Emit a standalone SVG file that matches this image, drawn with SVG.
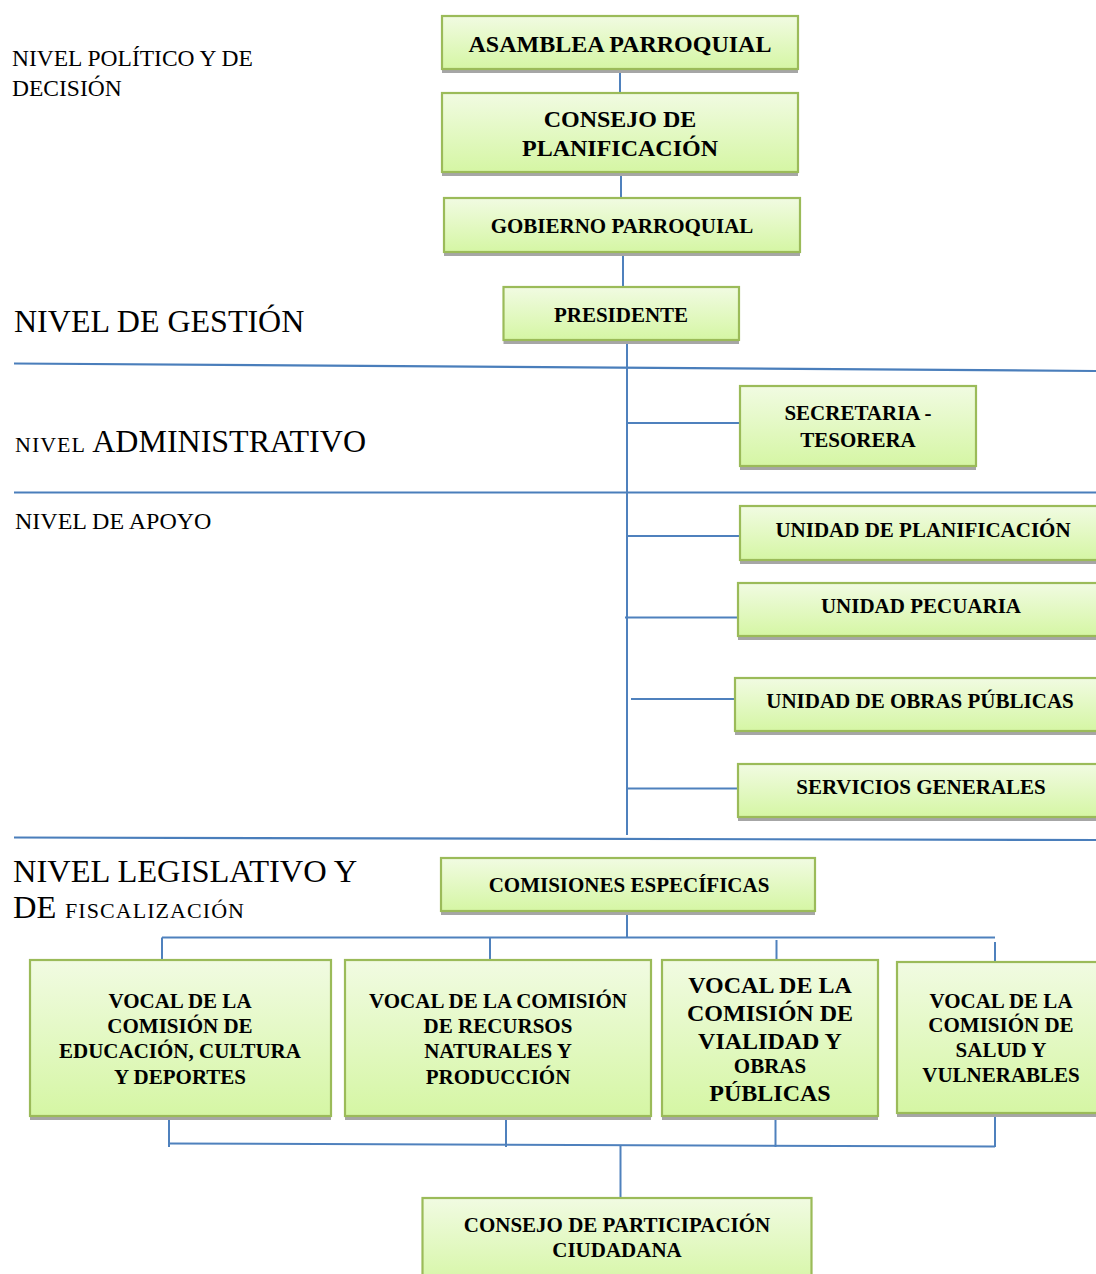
<svg xmlns="http://www.w3.org/2000/svg" width="1096" height="1274" viewBox="0 0 1096 1274">
<defs>
<linearGradient id="g" x1="0" y1="0" x2="0" y2="1">
<stop offset="0" stop-color="#f1fbe2"/>
<stop offset="1" stop-color="#d5f6a4"/>
</linearGradient>
</defs>
<style>
.sh{fill:#a6a6a6}
.bx{fill:url(#g);stroke:#9bbb59;stroke-width:2.2}
.t{font-family:"Liberation Serif","Times New Roman",serif;font-weight:bold;fill:#000;text-anchor:middle;font-size:21px}
.t24{font-size:24px}
.lb{font-family:"Liberation Serif","Times New Roman",serif;fill:#000}
.c{stroke:#4f81bd;stroke-width:2;fill:none}
.lv{stroke:#4a7ebb;stroke-width:2.2;fill:none}
</style>
<rect width="1096" height="1274" fill="#fff"/>

<g id="levels">
<text class="lb" x="12" y="66" font-size="23.5">NIVEL POLÍTICO Y DE</text>
<text class="lb" x="12" y="96" font-size="23.5">DECISIÓN</text>
<text class="lb" x="14" y="332" font-size="32">NIVEL DE GESTIÓN</text>
<text class="lb" x="15" y="452"><tspan font-size="22" textLength="70">NIVEL</tspan><tspan font-size="32"> ADMINISTRATIVO</tspan></text>
<text class="lb" x="15" y="529" font-size="24">NIVEL DE APOYO</text>
<text class="lb" x="13" y="882" font-size="32.5">NIVEL LEGISLATIVO Y</text>
<text class="lb" x="13" y="918"><tspan font-size="32.5">DE</tspan><tspan font-size="22" x="65" textLength="179">FISCALIZACIÓN</tspan></text>
<path class="lv" d="M14 363.5 L1096 371"/>
<path class="lv" d="M14 492.5 L1096 492.5"/>
<path class="lv" d="M14 837.5 L1096 840"/>
</g>

<g id="connectors">
<path class="c" d="M620 68 V93"/>
<path class="c" d="M621 172 V198"/>
<path class="c" d="M623 252 V287"/>
<path class="c" d="M627 341 V835"/>
<path class="c" d="M626 423 H740"/>
<path class="c" d="M627 536 H740"/>
<path class="c" d="M625 617.5 H738"/>
<path class="c" d="M631 699 H744"/>
<path class="c" d="M626 788.5 H740"/>
<path class="c" d="M627 911 V938"/>
<path class="c" d="M162 937.5 H995"/>
<path class="c" d="M162 937.5 V960"/>
<path class="c" d="M490 937.5 V960"/>
<path class="c" d="M776.5 940 V960"/>
<path class="c" d="M995 942 V962"/>
<path class="c" d="M169 1117 V1147"/>
<path class="c" d="M506 1117 V1147"/>
<path class="c" d="M775.5 1116 V1147"/>
<path class="c" d="M995 1114 V1147"/>
<path class="c" d="M169 1143.5 L995 1146.5"/>
<path class="c" d="M620.5 1145 V1198"/>
</g>

<g id="asamblea">
<rect class="sh" x="442" y="20" width="356" height="53"/>
<rect class="bx" x="442" y="16" width="356" height="53"/>
<text class="t t24" x="620" y="52">ASAMBLEA PARROQUIAL</text>
</g>
<g id="consejo-planificacion">
<rect class="sh" x="442" y="97" width="356" height="79"/>
<rect class="bx" x="442" y="93" width="356" height="79"/>
<text class="t t24" x="620" y="127">CONSEJO DE</text>
<text class="t t24" x="620" y="156">PLANIFICACIÓN</text>
</g>
<g id="gobierno">
<rect class="sh" x="444" y="202" width="356" height="54"/>
<rect class="bx" x="444" y="198" width="356" height="54"/>
<text class="t" x="622" y="233">GOBIERNO PARROQUIAL</text>
</g>
<g id="presidente">
<rect class="sh" x="503.5" y="291" width="235.5" height="53"/>
<rect class="bx" x="503.5" y="287" width="235.5" height="53"/>
<text class="t" x="621" y="322">PRESIDENTE</text>
</g>
<g id="secretaria">
<rect class="sh" x="740" y="390" width="236" height="80"/>
<rect class="bx" x="740" y="386" width="236" height="80"/>
<text class="t" x="858" y="420">SECRETARIA -</text>
<text class="t" x="858" y="447">TESORERA</text>
</g>
<g id="unidad-planificacion">
<rect class="sh" x="740" y="510" width="370" height="54"/>
<rect class="bx" x="740" y="506" width="370" height="54"/>
<text class="t" x="923" y="537">UNIDAD DE PLANIFICACIÓN</text>
</g>
<g id="unidad-pecuaria">
<rect class="sh" x="738" y="587" width="372" height="53"/>
<rect class="bx" x="738" y="583" width="372" height="53"/>
<text class="t" x="921" y="613">UNIDAD PECUARIA</text>
</g>
<g id="unidad-obras">
<rect class="sh" x="735" y="682" width="375" height="53"/>
<rect class="bx" x="735" y="678" width="375" height="53"/>
<text class="t" x="920" y="708">UNIDAD DE OBRAS PÚBLICAS</text>
</g>
<g id="servicios">
<rect class="sh" x="738" y="768" width="372" height="53"/>
<rect class="bx" x="738" y="764" width="372" height="53"/>
<text class="t" x="921" y="794">SERVICIOS GENERALES</text>
</g>
<g id="comisiones">
<rect class="sh" x="441" y="862" width="374" height="53"/>
<rect class="bx" x="441" y="858" width="374" height="53"/>
<text class="t" x="629" y="892">COMISIONES ESPECÍFICAS</text>
</g>
<g id="vocal-educacion">
<rect class="sh" x="30" y="964" width="301" height="156"/>
<rect class="bx" x="30" y="960" width="301" height="156"/>
<text class="t" x="180" y="1008">VOCAL DE LA</text>
<text class="t" x="180" y="1033">COMISIÓN DE</text>
<text class="t" x="180" y="1058">EDUCACIÓN, CULTURA</text>
<text class="t" x="180" y="1084">Y DEPORTES</text>
</g>
<g id="vocal-recursos">
<rect class="sh" x="345" y="964" width="306" height="156"/>
<rect class="bx" x="345" y="960" width="306" height="156"/>
<text class="t" x="498" y="1008">VOCAL DE LA COMISIÓN</text>
<text class="t" x="498" y="1033">DE RECURSOS</text>
<text class="t" x="498" y="1058">NATURALES Y</text>
<text class="t" x="498" y="1084">PRODUCCIÓN</text>
</g>
<g id="vocal-vialidad">
<rect class="sh" x="662" y="964" width="216" height="156"/>
<rect class="bx" x="662" y="960" width="216" height="156"/>
<text class="t t24" x="770" y="993">VOCAL DE LA</text>
<text class="t t24" x="770" y="1021">COMISIÓN DE</text>
<text class="t t24" x="770" y="1049">VIALIDAD Y</text>
<text class="t" x="770" y="1073">OBRAS</text>
<text class="t t24" x="770" y="1101">PÚBLICAS</text>
</g>
<g id="vocal-salud">
<rect class="sh" x="897" y="966" width="213" height="151"/>
<rect class="bx" x="897" y="962" width="213" height="151"/>
<text class="t" x="1001" y="1008">VOCAL DE LA</text>
<text class="t" x="1001" y="1032">COMISIÓN DE</text>
<text class="t" x="1001" y="1057">SALUD Y</text>
<text class="t" x="1001" y="1082">VULNERABLES</text>
</g>
<g id="consejo-participacion">
<rect class="sh" x="422.5" y="1202" width="389" height="90"/>
<rect class="bx" x="422.5" y="1198" width="389" height="90"/>
<text class="t" x="617" y="1232">CONSEJO DE PARTICIPACIÓN</text>
<text class="t" x="617" y="1257">CIUDADANA</text>
</g>
</svg>
